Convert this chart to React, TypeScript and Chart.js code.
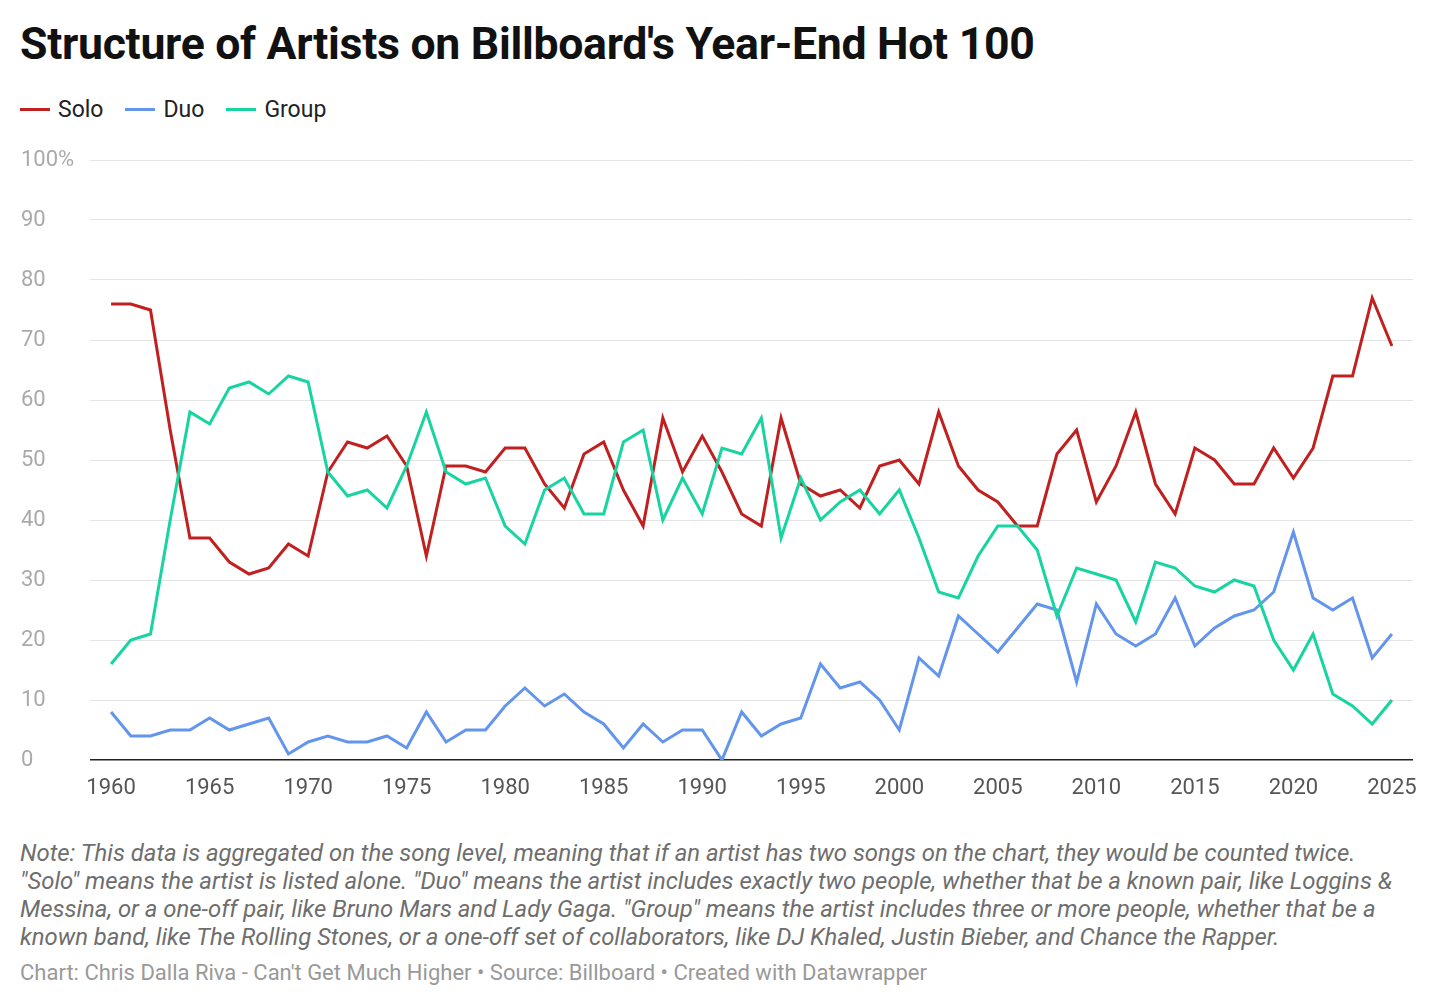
import React, { useEffect, useRef } from "react";
import { Chart, registerables } from "chart.js";
Chart.register(...registerables);

const years: number[] = [];
for (let y = 1960; y <= 2025; y++) years.push(y);
const solo = [76,76,75,55,37,37,33,31,32,36,34,48,53,52,54,49,34,49,49,48,52,52,46,42,51,53,45,39,57,48,54,48,41,39,57,46,44,45,42,49,50,46,58,49,45,43,39,39,51,55,43,49,58,46,41,52,50,46,46,52,47,52,64,64,77,69];
const duo = [8,4,4,5,5,7,5,6,7,1,3,4,3,3,4,2,8,3,5,5,9,12,9,11,8,6,2,6,3,5,5,0,8,4,6,7,16,12,13,10,5,17,14,24,21,18,22,26,25,13,26,21,19,21,27,19,22,24,25,28,38,27,25,27,17,21];
const group = [16,20,21,40,58,56,62,63,61,64,63,48,44,45,42,49,58,48,46,47,39,36,45,47,41,41,53,55,40,47,41,52,51,57,37,47,40,43,45,41,45,37,28,27,34,39,39,35,24,32,31,30,23,33,32,29,28,30,29,20,15,21,11,9,6,10];
const xTicks = [1960,1965,1970,1975,1980,1985,1990,1995,2000,2005,2010,2015,2020,2025];
const yTicks = [0,10,20,30,40,50,60,70,80,90,100];
const COLORS = { solo: "#c0201f", duo: "#6495ed", group: "#17d4a0" };

export default function App() {
  const ref = useRef<HTMLCanvasElement>(null);
  useEffect(() => {
    document.body.style.margin = "0";
    const mk = (d: number[]) => years.map((x, i) => ({ x, y: d[i] }));
    const ds = (label: string, d: number[], c: string) => ({ label, data: mk(d), borderColor: c, backgroundColor: c, borderWidth: 3, pointRadius: 0, tension: 0 });
    const chart = new Chart(ref.current!, {
      type: "line",
      data: { datasets: [ds("Group", group, COLORS.group), ds("Duo", duo, COLORS.duo), ds("Solo", solo, COLORS.solo)] },
      options: {
        animation: false, responsive: false, maintainAspectRatio: false,
        layout: { padding: { left: 21, right: 27, top: 20, bottom: 0 } },
        plugins: { legend: { display: false }, tooltip: { enabled: false } },
        scales: {
          x: {
            type: "linear", min: 1958.93, max: 2026.07,
            afterBuildTicks: (a: any) => { a.ticks = xTicks.map(v => ({ value: v })); },
            afterFit: (a: any) => { a.height = 60; },
            grid: { display: false, drawTicks: false },
            border: { display: false },
            ticks: { padding: 15, color: "#555", font: { family: "Roboto", size: 22 }, callback: (v: any) => String(v), maxRotation: 0 },
          },
          y: {
            min: 0, max: 100,
            afterBuildTicks: (a: any) => { a.ticks = yTicks.map(v => ({ value: v })); },
            afterFit: (a: any) => { a.width = 69; },
            grid: { drawTicks: false, color: (c: any) => c.tick && c.tick.value === 0 ? "#222" : "#e4e4e4", lineWidth: (c: any) => c.tick && c.tick.value === 0 ? 1.5 : 1 },
            border: { display: false },
            ticks: { crossAlign: "far", padding: 0, color: "#aaa", font: { family: "Roboto", size: 22 }, callback: (v: any) => v === 100 ? "100%" : String(v) },
          },
        },
      },
    });
    return () => chart.destroy();
  }, []);
  const leg = (name: string, c: string) => (
    <span style={{ display: "inline-flex", alignItems: "center", marginRight: 22 }}>
      <span style={{ width: 30, height: 3, background: c, display: "inline-block", marginRight: 8 }} />
      {name}
    </span>
  );
  return (
    <div style={{ position: "relative", width: 1440, height: 1008, fontFamily: "Roboto, sans-serif", background: "#fff" }}>
      <div style={{ position: "absolute", left: 20, top: 18, fontSize: 44.6, fontWeight: 700, color: "#111", letterSpacing: -0.3 }}>Structure of Artists on Billboard's Year-End Hot 100</div>
      <div style={{ position: "absolute", left: 20, top: 90, fontSize: 23, color: "#222" }}>
        {leg("Solo", COLORS.solo)}{leg("Duo", COLORS.duo)}{leg("Group", COLORS.group)}
      </div>
      <canvas ref={ref} width={1440} height={680} style={{ position: "absolute", left: 0, top: 140, width: 1440, height: 680 }} />
      <div style={{ position: "absolute", left: 20, top: 839, width: 1420, whiteSpace: "nowrap", fontSize: 23.9, lineHeight: "28px", fontStyle: "italic", color: "#6e6e6e" }}>
        Note: This data is aggregated on the song level, meaning that if an artist has two songs on the chart, they would be counted twice.<br />
        "Solo" means the artist is listed alone. "Duo" means the artist includes exactly two people, whether that be a known pair, like Loggins &amp;<br />
        Messina, or a one-off pair, like Bruno Mars and Lady Gaga. "Group" means the artist includes three or more people, whether that be a<br />
        known band, like The Rolling Stones, or a one-off set of collaborators, like DJ Khaled, Justin Bieber, and Chance the Rapper.
      </div>
      <div style={{ position: "absolute", left: 20, top: 960, fontSize: 22, color: "#999" }}>
        Chart: Chris Dalla Riva - Can't Get Much Higher • Source: Billboard • Created with Datawrapper
      </div>
    </div>
  );
}
